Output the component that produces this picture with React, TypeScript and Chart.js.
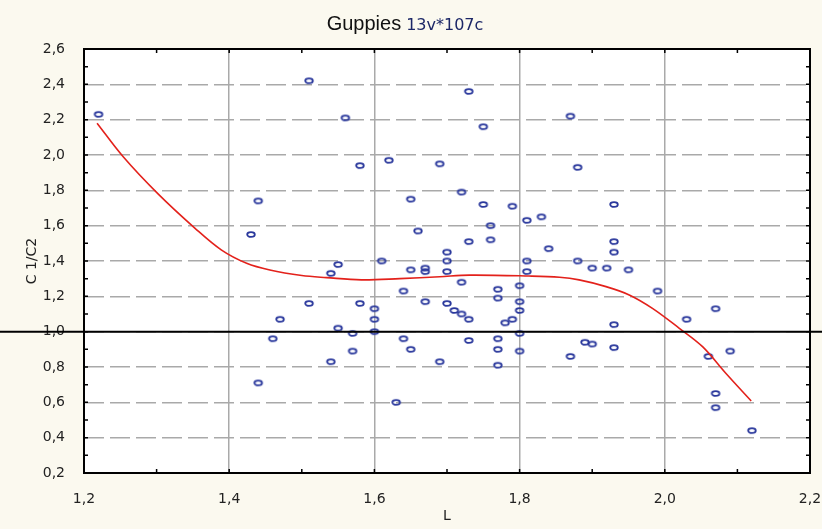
import React, { useEffect, useRef } from "react";
import { Chart, registerables } from "chart.js";

Chart.register(...registerables);

const TITLE_MAIN = "Guppies";
const TITLE_SUB = "13v*107c";
const X_TITLE = "L";
const Y_TITLE = "C 1/C2";

const X_TICKS = [1.2, 1.4, 1.6, 1.8, 2.0, 2.2];
const Y_TICKS = [0.2, 0.4, 0.6, 0.8, 1.0, 1.2, 1.4, 1.6, 1.8, 2.0, 2.2, 2.4, 2.6];
const REFERENCE_LEVEL = 1.0;

const L_VALUES = [
  1.22, 1.51, 1.44, 1.43, 1.51, 1.47, 1.46, 1.44, 1.56, 1.73,
  1.75, 1.58, 1.62, 1.69, 1.65, 1.72, 1.75, 1.79, 1.81, 1.83,
  1.76, 1.66, 1.73, 1.76, 1.70, 1.84, 1.61, 1.55, 1.54, 1.65,
  1.67, 1.67, 1.70, 1.70, 1.81, 1.81, 1.72, 1.64, 1.77, 1.77,
  1.80, 1.80, 1.80, 1.58, 1.67, 1.70, 1.71, 1.72, 1.73, 1.60,
  1.60, 1.55, 1.60, 1.57, 1.78, 1.79, 1.80, 1.64, 1.73, 1.77,
  1.57, 1.65, 1.77, 1.80, 1.54, 1.69, 1.77, 1.63, 1.87, 1.88,
  1.93, 1.93, 1.93, 1.88, 1.90, 1.92, 1.95, 1.99, 2.07, 2.03,
  1.93, 1.89, 1.90, 1.93, 1.87, 2.06, 2.09, 2.07, 2.07, 2.12,
];
const C_RATIO = [
  2.23, 2.42, 1.74, 1.55, 1.16, 1.07, 0.96, 0.71, 2.21, 2.36,
  2.16, 1.94, 1.97, 1.95, 1.75, 1.79, 1.72, 1.71, 1.63, 1.65,
  1.60, 1.57, 1.51, 1.52, 1.45, 1.47, 1.40, 1.38, 1.33, 1.35,
  1.36, 1.34, 1.40, 1.34, 1.40, 1.34, 1.28, 1.23, 1.24, 1.19,
  1.26, 1.17, 1.12, 1.16, 1.17, 1.16, 1.12, 1.10, 1.07, 1.13,
  1.07, 1.02, 1.00, 0.99, 1.05, 1.07, 0.99, 0.96, 0.95, 0.96,
  0.89, 0.90, 0.90, 0.89, 0.83, 0.83, 0.81, 0.60, 2.22, 1.93,
  1.72, 1.51, 1.45, 1.40, 1.36, 1.36, 1.35, 1.23, 1.13, 1.07,
  1.04, 0.94, 0.93, 0.91, 0.86, 0.86, 0.89, 0.65, 0.57, 0.44,
];

const FIT_L = [
  1.218, 1.254, 1.302, 1.353, 1.389, 1.424, 1.456, 1.5, 1.534, 1.582,
  1.635, 1.69, 1.731, 1.813, 1.855, 1.882, 1.919, 1.951, 1.983, 2.02,
  2.052, 2.084, 2.119,
];
const FIT_C = [
  2.18, 1.99, 1.78, 1.585, 1.463, 1.387, 1.349, 1.318, 1.306, 1.293,
  1.3, 1.311, 1.32, 1.315, 1.308, 1.293, 1.255, 1.208, 1.132, 1.019,
  0.915, 0.765, 0.608,
];

const fmt = (v: number) => v.toFixed(1).replace(".", ",");

export default function App() {
  const ref = useRef<HTMLCanvasElement | null>(null);

  useEffect(() => {
    if (!ref.current) return;

    const ps = document.createElement("canvas");
    ps.width = 12;
    ps.height = 9;
    const pc = ps.getContext("2d")!;
    pc.strokeStyle = "#2a389c";
    pc.lineWidth = 1.8;
    pc.beginPath();
    pc.ellipse(6, 4.5, 3.8, 2.4, 0, 0, Math.PI * 2);
    pc.stroke();

    const decor = {
      id: "decor",
      beforeDraw(chart: any) {
        const { ctx, chartArea: a, width, height } = chart;
        ctx.save();
        ctx.fillStyle = "#fbf9ef";
        ctx.fillRect(0, 0, width, height);
        ctx.fillStyle = "#ffffff";
        ctx.fillRect(a.left, a.top, a.right - a.left, a.bottom - a.top);
        ctx.restore();
      },
      afterDraw(chart: any) {
        const { ctx, chartArea: a, width } = chart;
        const xs = chart.scales.x;
        const ys = chart.scales.y;
        ctx.save();
        ctx.strokeStyle = "#000";
        ctx.lineWidth = 2;
        ctx.strokeRect(a.left, a.top, a.right - a.left, a.bottom - a.top);
        ctx.lineWidth = 1.5;
        const xt = X_TICKS;
        const yt = Y_TICKS;
        const xv: number[] = [];
        for (let i = 0; i < xt.length; i++) {
          xv.push(xt[i]);
          if (i < xt.length - 1) xv.push((xt[i] + xt[i + 1]) / 2);
        }
        const yv: number[] = [];
        for (let i = 0; i < yt.length; i++) {
          yv.push(yt[i]);
          if (i < yt.length - 1) yv.push((yt[i] + yt[i + 1]) / 2);
        }
        ctx.beginPath();
        xv.forEach((v) => {
          const px = xs.getPixelForValue(v);
          ctx.moveTo(px, a.bottom);
          ctx.lineTo(px, a.bottom - 4);
          ctx.moveTo(px, a.top);
          ctx.lineTo(px, a.top + 4);
        });
        yv.forEach((v) => {
          const py = ys.getPixelForValue(v);
          ctx.moveTo(a.left, py);
          ctx.lineTo(a.left + 4, py);
          ctx.moveTo(a.right, py);
          ctx.lineTo(a.right - 4, py);
        });
        ctx.stroke();
        const ry = ys.getPixelForValue(REFERENCE_LEVEL);
        ctx.lineWidth = 2;
        ctx.beginPath();
        ctx.moveTo(0, ry);
        ctx.lineTo(width, ry);
        ctx.stroke();
        ctx.textBaseline = "alphabetic";
        ctx.textAlign = "left";
        ctx.font = '20px "Liberation Sans", Arial, sans-serif';
        const w1 = ctx.measureText(TITLE_MAIN).width;
        ctx.font = '16px "DejaVu Sans", sans-serif';
        const w2 = ctx.measureText(TITLE_SUB).width;
        const gap = 5;
        const total = w1 + gap + w2;
        const start = 405 - total / 2;
        ctx.font = '20px "Liberation Sans", Arial, sans-serif';
        ctx.fillStyle = "#111";
        ctx.fillText(TITLE_MAIN, start, 30);
        ctx.font = '16px "DejaVu Sans", sans-serif';
        ctx.fillStyle = "#1c2767";
        ctx.fillText(TITLE_SUB, start + w1 + gap, 30);
        ctx.restore();
      },
    };

    const points = L_VALUES.map((x, i) => ({ x, y: C_RATIO[i] }));
    const fit = FIT_L.map((x, i) => ({ x, y: FIT_C[i] }));

    const tickFont = { family: '"DejaVu Sans", sans-serif', size: 14 };

    const chart = new Chart(ref.current, {
      type: "scatter",
      data: {
        datasets: [
          {
            data: fit,
            showLine: true,
            borderColor: "#e3211b",
            borderWidth: 1.6,
            pointRadius: 0,
            tension: 0.35,
            fill: false,
          } as any,
          {
            data: points,
            pointStyle: ps as any,
            pointRadius: 5,
            backgroundColor: "rgba(0,0,0,0)",
            borderColor: "#2a389c",
          },
        ],
      },
      options: {
        animation: false,
        responsive: false,
        layout: { padding: { top: 49, right: 12, left: 0, bottom: 0 } },
        plugins: { legend: { display: false }, tooltip: { enabled: false } },
        scales: {
          x: {
            type: "linear",
            min: 1.2,
            max: 2.2,
            afterBuildTicks: (s: any) => {
              s.ticks = X_TICKS.map((v) => ({ value: v }));
            },
            afterFit: (s: any) => {
              s.height = 56;
              s.paddingLeft = 0;
              s.paddingRight = 0;
            },
            ticks: {
              font: tickFont,
              color: "#222",
              padding: 18,
              maxRotation: 0,
              callback: (v: any) => fmt(Number(v)),
            },
            grid: { color: "#a9a9a9", lineWidth: 1.5, drawTicks: false },
            border: { display: false },
            title: {
              display: true,
              text: X_TITLE,
              font: { family: '"DejaVu Sans", sans-serif', size: 14 },
              color: "#222",
              padding: { top: 0, bottom: 4 },
            },
          },
          y: {
            type: "linear",
            min: 0.2,
            max: 2.6,
            afterBuildTicks: (s: any) => {
              s.ticks = Y_TICKS.map((v) => ({ value: v }));
            },
            afterFit: (s: any) => {
              s.width = 84;
              s.paddingTop = 0;
              s.paddingBottom = 0;
            },
            ticks: {
              font: tickFont,
              color: "#222",
              padding: 19,
              callback: (v: any) => fmt(Number(v)),
            },
            grid: { color: "#a9a9a9", lineWidth: 1.5, drawTicks: false },
            border: { display: false, dash: [20, 6] },
            title: {
              display: true,
              text: Y_TITLE,
              font: { family: '"DejaVu Sans", sans-serif', size: 14 },
              color: "#222",
              padding: { top: 24, bottom: 0 },
            },
          },
        },
      },
      plugins: [decor],
    });

    return () => chart.destroy();
  }, []);

  return (
    <div style={{ position: "absolute", left: 0, top: 0, width: 822, height: 529 }}>
      <canvas ref={ref} width={822} height={529} />
    </div>
  );
}
